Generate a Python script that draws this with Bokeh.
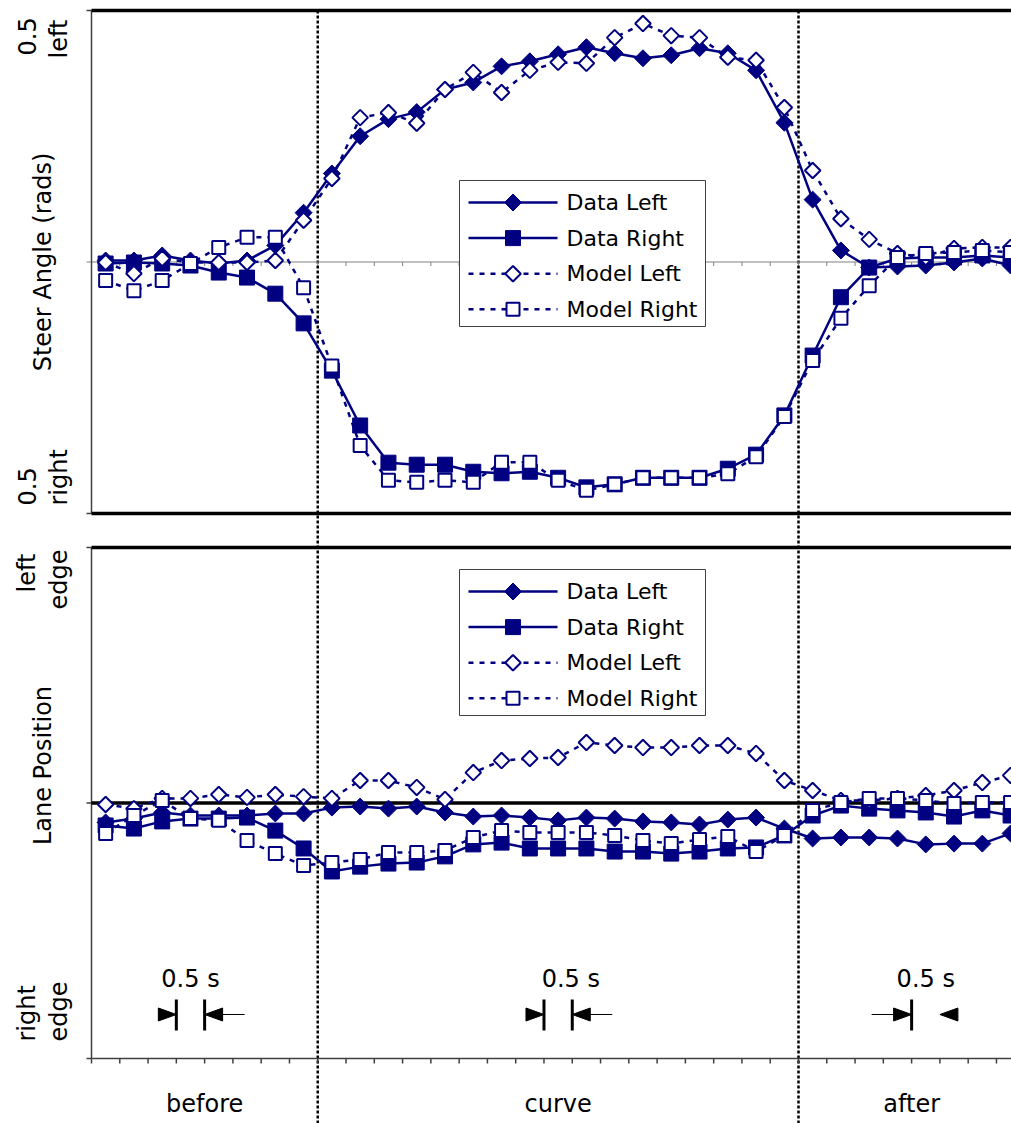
import numpy as np
from bokeh.plotting import figure
from bokeh.models import Range1d
from bokeh.embed import file_html
from bokeh.resources import INLINE
from bokeh.core.properties import value

# ---------------- data ----------------
regions = ["before", "curve", "after"]
region_edges = [0, 8, 25, 33]          # category boundaries (one category = 0.5 s)
n_pts = 33
x = np.arange(n_pts) + 0.5

steer_data_left = [0.003, 0.003, 0.013, 0.003, -0.003, 0.003, 0.033, 0.098, 0.176, 0.250, 0.284,
                   0.298, 0.343, 0.357, 0.389, 0.399, 0.413, 0.427, 0.415, 0.405, 0.411, 0.425,
                   0.415, 0.381, 0.277, 0.124, 0.023, -0.011, -0.009, -0.007, -0.001, 0.007, -0.007]
steer_data_right = [-0.003, -0.001, -0.003, -0.007, -0.021, -0.031, -0.063, -0.122, -0.216, -0.325,
                    -0.399, -0.403, -0.403, -0.417, -0.420, -0.417, -0.429, -0.448, -0.442, -0.429,
                    -0.429, -0.429, -0.411, -0.383, -0.305, -0.186, -0.070, -0.011, 0.007, 0.009,
                    0.009, 0.013, 0.009]
steer_model_left = [-0.001, -0.023, 0.007, -0.001, -0.001, -0.001, 0.003, 0.083, 0.166, 0.287, 0.297,
                    0.276, 0.343, 0.377, 0.337, 0.381, 0.397, 0.395, 0.446, 0.474, 0.450, 0.446,
                    0.407, 0.401, 0.307, 0.182, 0.086, 0.045, 0.017, 0.009, 0.027, 0.029, 0.029]
steer_model_right = [-0.037, -0.057, -0.037, -0.003, 0.029, 0.049, 0.049, -0.051, -0.207, -0.365,
                     -0.434, -0.438, -0.434, -0.438, -0.398, -0.398, -0.434, -0.454, -0.442, -0.429,
                     -0.429, -0.429, -0.421, -0.387, -0.307, -0.196, -0.112, -0.047, 0.009, 0.017,
                     0.019, 0.023, 0.019]

lane_data_left = [-0.076, -0.061, -0.037, -0.049, -0.049, -0.049, -0.041, -0.041, -0.018, -0.014,
                  -0.022, -0.014, -0.037, -0.053, -0.049, -0.057, -0.068, -0.057, -0.061, -0.072,
                  -0.076, -0.084, -0.065, -0.057, -0.100, -0.139, -0.135, -0.135, -0.139, -0.162,
                  -0.159, -0.159, -0.119]
lane_data_right = [-0.088, -0.100, -0.072, -0.061, -0.061, -0.057, -0.108, -0.178, -0.268, -0.249,
                   -0.237, -0.233, -0.209, -0.162, -0.155, -0.178, -0.178, -0.178, -0.190, -0.190,
                   -0.198, -0.190, -0.178, -0.174, -0.127, -0.049, -0.010, -0.022, -0.029, -0.037,
                   -0.053, -0.029, -0.049]
lane_model_left = [-0.006, -0.022, 0.018, 0.018, 0.033, 0.022, 0.033, 0.025, 0.018, 0.088, 0.088,
                   0.061, 0.014, 0.119, 0.166, 0.174, 0.178, 0.237, 0.225, 0.217, 0.217, 0.225,
                   0.225, 0.194, 0.088, 0.049, 0.010, 0.010, 0.018, 0.029, 0.049, 0.080, 0.108]
lane_model_right = [-0.119, -0.049, 0.010, -0.061, -0.068, -0.147, -0.198, -0.245, -0.233, -0.221,
                    -0.194, -0.194, -0.186, -0.135, -0.108, -0.115, -0.115, -0.115, -0.127, -0.147,
                    -0.159, -0.143, -0.131, -0.190, -0.127, -0.029, 0.002, 0.018, 0.018, 0.010,
                    -0.002, 0.002, 0.002]

series_names = ["Data Left", "Data Right", "Model Left", "Model Right"]
steer_title = "Steer Angle (rads)"
lane_title = "Lane Position"
steer_tick_labels = [("0.5", "left"), ("0.5", "right")]   # at +0.5 and -0.5
lane_tick_labels = [("left", "edge"), ("right", "edge")]  # at +1 and -1
scale_bar_text = "0.5 s"
scale_bars = [(3, 4), (16, 17), (29, 30)]                 # interval of one category

# ---------------- geometry / style ----------------
W, H = 1011, 1123
SX = 28.28           # px per category
X0 = 91              # px of the left axis
S_ZERO, S_PX = 261.5, 503.0     # steer panel: px of 0, px per rad
L_ZERO, L_PX = 802.5, 255.5     # lane panel: px of 0, px per unit

NAVY = "#000080"
AXC = "#404040"
FONT = "DejaVu Sans"


def ux(px):
    return (px - X0) / SX


def sy(py):
    return (S_ZERO - py) / S_PX


def ly(py):
    return (L_ZERO - py) / L_PX


styles = [
    dict(angle=np.pi / 4, size=12, fill=NAVY, dash="solid", lw=1),
    dict(angle=0.0, size=15, fill=NAVY, dash="solid", lw=1),
    dict(angle=np.pi / 4, size=11, fill="white", dash="5 6", lw=2),
    dict(angle=0.0, size=13, fill="white", dash="5 6", lw=2),
]

p = figure(width=W, height=H, x_range=Range1d(ux(0), ux(W)), y_range=Range1d(sy(H), sy(0)),
           output_backend="svg", toolbar_location=None,
           x_axis_location=None, y_axis_location=None,
           min_border_left=0, min_border_right=0, min_border_top=0, min_border_bottom=0,
           outline_line_color=None, background_fill_color="white", border_fill_color="white")
p.extra_y_ranges = {"lane": Range1d(ly(H), ly(0))}
p.grid.visible = False

x_end = ux(W)
tick_len = 5 / SX
cats = np.arange(0, 33)

# ---- dotted region separators (full height) ----
p.segment(x0=region_edges[1:3], y0=0.5, x1=region_edges[1:3], y1=sy(H),
          line_color="black", line_width=2.5, line_dash="3 2")

# ---- steer panel frame ----
p.segment(x0=[-tick_len, 0], y0=[0, 0], x1=[x_end, 0], y1=[0, 0],
          line_color="#808080", line_width=1)
p.segment(x0=cats[1:], y0=0, x1=cats[1:], y1=-4 / S_PX, line_color="#808080", line_width=1)
p.segment(x0=0, y0=-0.5, x1=0, y1=0.5, line_color=AXC, line_width=1.5)
p.segment(x0=-tick_len, y0=[-0.5, 0.5], x1=0, y1=[-0.5, 0.5], line_color=AXC, line_width=1.5)
p.segment(x0=0, y0=[-0.5, 0.5], x1=x_end, y1=[-0.5, 0.5], line_color="black", line_width=3.5)

# ---- lane panel frame ----
p.segment(x0=0, y0=-1, x1=0, y1=1, line_color=AXC, line_width=1.5, y_range_name="lane")
p.segment(x0=-tick_len, y0=[-1, 0, 1], x1=0, y1=[-1, 0, 1], line_color=AXC, line_width=1.5,
          y_range_name="lane")
p.segment(x0=0, y0=-1, x1=x_end, y1=-1, line_color=AXC, line_width=1.5, y_range_name="lane")
p.segment(x0=cats, y0=-1, x1=cats, y1=-1 - 5 / L_PX, line_color=AXC, line_width=1.5,
          y_range_name="lane")
p.segment(x0=0, y0=[0, 1], x1=x_end, y1=[0, 1], line_color="black", line_width=3.5,
          y_range_name="lane")


# ---- series ----
def add_series(ys_list, rng):
    for ys, st in zip(ys_list, styles):
        p.line(x, ys, line_color=NAVY, line_width=2.5, line_dash=st["dash"], y_range_name=rng)
        p.scatter(x, ys, marker="square", angle=st["angle"], size=st["size"],
                  fill_color=st["fill"], line_color=NAVY, line_width=st["lw"], y_range_name=rng)


add_series([steer_data_left, steer_data_right, steer_model_left, steer_model_right], "default")
add_series([lane_data_left, lane_data_right, lane_model_left, lane_model_right], "lane")


# ---- legends (drawn as a boxed key) ----
def add_key(conv, box_top, rng):
    box_bottom = box_top + 146
    p.quad(left=ux(459), right=ux(705), top=conv(box_top), bottom=conv(box_bottom),
           fill_color="white", line_color=AXC, line_width=1, y_range_name=rng)
    rows = [box_top + 22 + 35.6 * k for k in range(4)]
    for name, st, ry in zip(series_names, styles, rows):
        yy = conv(ry)
        p.line([ux(468), ux(557)], [yy, yy], line_color=NAVY, line_width=2.5,
               line_dash=st["dash"], y_range_name=rng)
        p.scatter([ux(512.5)], [yy], marker="square", angle=st["angle"], size=st["size"],
                  fill_color=st["fill"], line_color=NAVY, line_width=st["lw"], y_range_name=rng)
    p.text(x=[ux(566)] * 4, y=[conv(r) for r in rows], text=series_names,
           text_align=value("left"), text_baseline=value("middle"),
           text_font=value(FONT), text_font_size=value("22px"), text_color="black",
           y_range_name=rng)


add_key(sy, 180, "default")
add_key(ly, 569, "lane")


# ---- axis texts ----
def vtext(xs_px, ys, texts, align, rng):
    p.text(x=[ux(v) for v in xs_px], y=ys, text=texts, angle=np.pi / 2,
           text_align=value(align), text_baseline=value("middle"),
           text_font=value(FONT), text_font_size=value("24px"), text_color="black",
           y_range_name=rng)


# tick labels: two lines each, read bottom-to-top
vtext([26, 58, 26, 58], [sy(55), sy(58), sy(505), sy(505)],
      [steer_tick_labels[0][0], steer_tick_labels[0][1],
       steer_tick_labels[1][0], steer_tick_labels[1][1]], "left", "default")
vtext([26, 58, 26, 58], [ly(592), ly(609), ly(1041), ly(1041)],
      [lane_tick_labels[0][0], lane_tick_labels[0][1],
       lane_tick_labels[1][0], lane_tick_labels[1][1]], "left", "lane")
vtext([42], [0.0], [steer_title], "center", "default")
vtext([42], [ly(765)], [lane_title], "center", "lane")

# region names under the axis
centers = [(a + b) / 2 for a, b in zip(region_edges[:-1], region_edges[1:])]
p.text(x=centers, y=[ly(1103)] * 3, text=regions, text_align=value("center"),
       text_baseline=value("middle"), text_font=value(FONT), text_font_size=value("24px"),
       text_color="black", y_range_name="lane")

# ---- 0.5 s scale markers ----
TL = 18 / SX
TH = 13 / L_PX
yc = ly(1014)
tail = 22 / SX
tri_xs, tri_ys, bars, tx0, tx1, lab_x = [], [], [], [], [], []
for k, (a, b) in enumerate(scale_bars):
    tri_xs.append([a, a - TL, a - TL]); tri_ys.append([yc, yc + TH / 2, yc - TH / 2])
    tri_xs.append([b, b + TL, b + TL]); tri_ys.append([yc, yc + TH / 2, yc - TH / 2])
    bars.append(a)
    if k < 2:
        bars.append(b)
        tx0.append(b + TL); tx1.append(b + TL + tail)
    else:
        tx0.append(a - TL - tail); tx1.append(a - TL)
    lab_x.append((a + b) / 2 if k != 1 else b - 0.05)
p.patches(tri_xs, tri_ys, fill_color="black", line_color="black", y_range_name="lane")
p.segment(x0=bars, y0=ly(999), x1=bars, y1=ly(1030), line_color="black", line_width=3,
          y_range_name="lane")
p.segment(x0=tx0, y0=yc, x1=tx1, y1=yc, line_color="black", line_width=1, y_range_name="lane")
p.text(x=lab_x, y=[ly(978)] * 3, text=[scale_bar_text] * 3, text_align=value("center"),
       text_baseline=value("middle"), text_font=value(FONT), text_font_size=value("24px"),
       text_color="black", y_range_name="lane")

open("out.html", "w").write(file_html(p, INLINE))
